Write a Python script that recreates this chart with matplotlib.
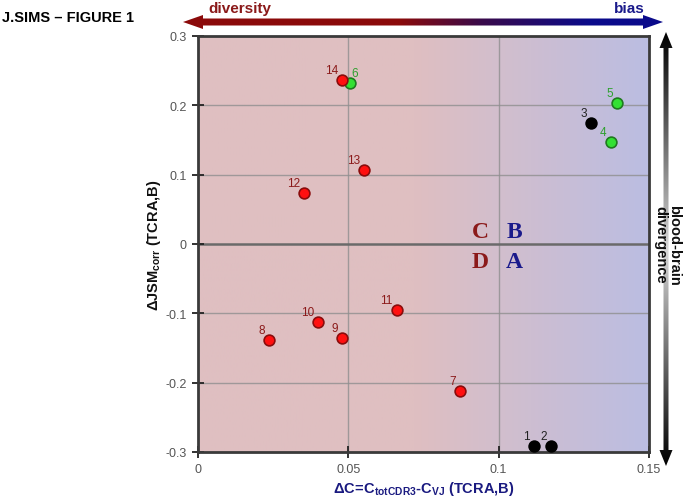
import numpy as np
import matplotlib
matplotlib.use("Agg")
import matplotlib.pyplot as plt
from matplotlib.patches import Polygon
from matplotlib.colors import LinearSegmentedColormap

plt.rcParams["font.family"] = ["Liberation Sans", "DejaVu Sans"]
plt.rcParams["mathtext.fontset"] = "custom"
plt.rcParams["mathtext.rm"] = "Liberation Sans"
plt.rcParams["mathtext.bf"] = "Liberation Sans:bold"

# data
labels = ["1", "2", "3", "4", "5", "6", "7", "8", "9", "10", "11", "12", "13", "14"]
delta_c = [0.1117, 0.1174, 0.1307, 0.1373, 0.1393, 0.0505, 0.0871,
           0.0236, 0.0479, 0.0399, 0.0662, 0.0353, 0.0552, 0.0479]
delta_jsm = [-0.291, -0.291, 0.1746, 0.147, 0.2035, 0.232, -0.212,
             -0.1385, -0.1356, -0.1126, -0.095, 0.0736, 0.107, 0.237]
groups = ["black", "black", "black", "green", "green", "green", "red",
          "red", "red", "red", "red", "red", "red", "red"]

x_ticks = [0, 0.05, 0.1, 0.15]
x_ticklabels = ["0", "0.05", "0.1", "0.15"]
y_ticks = [-0.3, -0.2, -0.1, 0, 0.1, 0.2, 0.3]
y_ticklabels = ["-0.3", "-0.2", "-0.1", "0", "0.1", "0.2", "0.3"]

face = {"red": "#ff1010", "green": "#33e033", "black": "#000000"}
edge = {"red": "#8a0c0c", "green": "#1f7a1f", "black": "#000000"}
text_col = {"red": "#8b1a1a", "green": "#2ea02e", "black": "#222222"}

W, H = 685, 502
fig = plt.figure(figsize=(W / 100, H / 100), dpi=100)
ax = fig.add_axes([198 / W, 1 - 453 / H, (649 - 198) / W, (453 - 37) / H])
ax.set_xlim(0, 0.15)
ax.set_ylim(-0.3, 0.3)

# background gradient: pink on the left, blue-ish on the right
xs = np.linspace(0, 0.15, 300)
t = np.clip((xs - 0.072) / (0.15 - 0.072), 0, 1)
left_c = np.array([223, 191, 193]) / 255
right_c = np.array([187, 189, 226]) / 255
row = left_c[None, :] * (1 - t[:, None]) + right_c[None, :] * t[:, None]
ax.imshow(row[None, :, :], extent=[0, 0.15, -0.3, 0.3], aspect="auto", zorder=0)

for v in [0.05, 0.1]:
    ax.axvline(v, color="#8f8f8f", lw=1.0, alpha=0.8, zorder=1)
for v in [-0.2, -0.1, 0.1, 0.2]:
    ax.axhline(v, color="#8f8f8f", lw=1.0, alpha=0.8, zorder=1)
ax.axhline(0, color="#6a6a6a", lw=1.8, zorder=1)

for x, y, lab, g in zip(delta_c, delta_jsm, labels, groups):
    ax.scatter(x, y, s=60, c=face[g], edgecolors=edge[g], linewidths=1.2, zorder=3)
    if lab == "6":
        # sits next to 14, so its label goes to the upper right
        ax.annotate(lab, (x, y), xytext=(1, 3), textcoords="offset points",
                    ha="left", va="bottom", fontsize=8.5, color=text_col[g], zorder=4)
    else:
        ax.annotate(lab, (x, y), xytext=(-3, 3), textcoords="offset points",
                    ha="right", va="bottom", fontsize=8.5, color=text_col[g], zorder=4)

serif = ["Liberation Serif", "DejaVu Serif"]
ax.text(0.0968, 0.018, "C", color="#8b1a1a", fontsize=17, fontweight="bold",
        family=serif, ha="right", va="center")
ax.text(0.1025, 0.018, "B", color="#1a1a8b", fontsize=17, fontweight="bold",
        family=serif, ha="left", va="center")
ax.text(0.0968, -0.025, "D", color="#8b1a1a", fontsize=17, fontweight="bold",
        family=serif, ha="right", va="center")
ax.text(0.1025, -0.025, "A", color="#1a1a8b", fontsize=17, fontweight="bold",
        family=serif, ha="left", va="center")

for s in ax.spines.values():
    s.set_color("#3a3a3a")
    s.set_linewidth(2)
ax.set_xticks(x_ticks)
ax.set_xticklabels(x_ticklabels)
ax.set_yticks(y_ticks)
ax.set_yticklabels(y_ticklabels)
ax.tick_params(direction="inout", length=9, width=1.3, color="#222222",
               labelcolor="#555555", labelsize=9)

ax.set_xlabel(r"$\mathbf{\Delta C\!=\!C_{totCDR3}}$-$\mathbf{C_{VJ}}$ (TCRA,B)",
              fontsize=10.5, fontweight="bold", color="#1a1a80", labelpad=3)
ax.set_ylabel(r"$\mathbf{\Delta JSM_{corr}}$ (TCRA,B)",
              fontsize=10.5, fontweight="bold", color="#111111", labelpad=2)

# overlay in pixel coordinates for title and arrows
ov = fig.add_axes([0, 0, 1, 1], zorder=5)
ov.set_xlim(0, W)
ov.set_ylim(H, 0)
ov.axis("off")

fig.text(2 / W, 1 - 18 / H, "J.SIMS \u2013 FIGURE 1", fontsize=10.5,
         fontweight="bold", ha="left", va="center")


def h_arrow(x0, x1, yc, shaft, head_w, head_l):
    return [(x0, yc), (x0 + head_l, yc - head_w / 2), (x0 + head_l, yc - shaft / 2),
            (x1 - head_l, yc - shaft / 2), (x1 - head_l, yc - head_w / 2), (x1, yc),
            (x1 - head_l, yc + head_w / 2), (x1 - head_l, yc + shaft / 2),
            (x0 + head_l, yc + shaft / 2), (x0 + head_l, yc + head_w / 2)]


# top diversity/bias arrow
top_poly = Polygon(h_arrow(183, 663, 23, 7, 14, 20), closed=True,
                   facecolor="none", edgecolor="none")
ov.add_patch(top_poly)
top_cmap = LinearSegmentedColormap.from_list(
    "rb", [(0, "#8b0a0a"), (0.45, "#8b0a0a"), (0.62, "#3a0a4a"), (0.85, "#0a0a8b"), (1, "#0a0a8b")])
img = ov.imshow(np.linspace(0, 1, 256)[None, :], cmap=top_cmap, aspect="auto",
                extent=[183, 663, 31, 15], zorder=5)
img.set_clip_path(top_poly)
ov.set_xlim(0, W)
ov.set_ylim(H, 0)
ov.text(208, 9, "diversity", color="#8b1a1a", fontsize=11, fontweight="bold",
        ha="left", va="center")
ov.text(645, 9, "bias", color="#1a1a8b", fontsize=11, fontweight="bold",
        ha="right", va="center")

# right blood-brain arrow
xc = 666
pts = [(y, x) for x, y in h_arrow(33, 467, xc, 5, 13, 16)]
right_poly = Polygon(pts, closed=True, facecolor="none", edgecolor="none")
ov.add_patch(right_poly)
right_cmap = LinearSegmentedColormap.from_list(
    "kg", [(0, "#000000"), (0.5, "#d8d8d8"), (1, "#000000")])
img2 = ov.imshow(np.linspace(0, 1, 256)[:, None], cmap=right_cmap, aspect="auto",
                 extent=[xc - 8, xc + 8, 467, 33], zorder=5)
img2.set_clip_path(right_poly)
ov.set_xlim(0, W)
ov.set_ylim(H, 0)
ov.text(xc + 1, 245, "blood-brain\ndivergence", rotation=-90, fontsize=10.5,
        fontweight="bold", ha="center", va="center", linespacing=0.95,
        color="#111111", zorder=6)

fig.savefig("out.png", dpi=100)
